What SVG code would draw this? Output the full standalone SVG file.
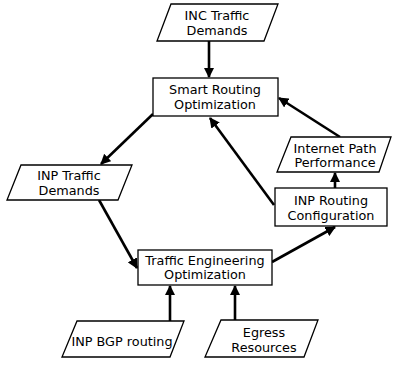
<svg xmlns="http://www.w3.org/2000/svg" width="399" height="367" viewBox="0 0 399 367">
<defs>
<marker id="ah" viewBox="0 0 10 10" refX="9" refY="5" markerWidth="4" markerHeight="4" orient="auto" markerUnits="strokeWidth">
<path d="M0,0 L10,5 L0,10 z" fill="#000"/>
</marker>
<style>
.n{fill:#fff;stroke:#000;stroke-width:1.3}
.t{font-family:"DejaVu Sans",Verdana,sans-serif;font-size:12.8px;fill:#000;text-anchor:middle}
.c{stroke:#000;stroke-width:2.6;fill:none;marker-end:url(#ah)}
</style>
</defs>
<rect width="399" height="367" fill="#fff"/>
<g id="connectors">
<line class="c" x1="209" y1="41" x2="209" y2="77"/>
<line class="c" x1="153" y1="114" x2="101" y2="164"/>
<line class="c" x1="99" y1="200" x2="137" y2="268"/>
<line class="c" x1="272" y1="262" x2="335" y2="227"/>
<line class="c" x1="335" y1="188" x2="335" y2="173"/>
<line class="c" x1="340" y1="137" x2="279" y2="98"/>
<line class="c" x1="274" y1="205" x2="210" y2="118"/>
<line class="c" x1="170" y1="321" x2="170" y2="286"/>
<line class="c" x1="235" y1="320" x2="235" y2="286"/>
</g>
<g id="inc">
<polygon class="n" points="171,4 278,4 264,41 157,41"/>
<text class="t" x="217" y="20">INC Traffic</text>
<text class="t" x="217" y="35">Demands</text>
</g>
<g id="smart">
<rect class="n" x="153" y="78" width="125" height="38"/>
<text class="t" x="215" y="94">Smart Routing</text>
<text class="t" x="215" y="109">Optimization</text>
</g>
<g id="inptraffic">
<polygon class="n" points="21,165 132,165 118,200 7,200"/>
<text class="t" x="69" y="180">INP Traffic</text>
<text class="t" x="69" y="195">Demands</text>
</g>
<g id="te">
<rect class="n" x="138" y="250" width="134" height="35"/>
<text class="t" x="205" y="265">Traffic Engineering</text>
<text class="t" x="205" y="279">Optimization</text>
</g>
<g id="inproute">
<rect class="n" x="275" y="188" width="112" height="38"/>
<text class="t" x="331" y="205">INP Routing</text>
<text class="t" x="331" y="220">Configuration</text>
</g>
<g id="inetpath">
<polygon class="n" points="291,137 391,137 379,172 277,172"/>
<text class="t" x="335" y="153">Internet Path</text>
<text class="t" x="335" y="167">Performance</text>
</g>
<g id="bgp">
<polygon class="n" points="77,321 184,321 170,357 62,357"/>
<text class="t" x="122" y="346">INP BGP routing</text>
</g>
<g id="egress">
<polygon class="n" points="221,320 318,320 304,357 205,357"/>
<text class="t" x="264" y="337">Egress</text>
<text class="t" x="264" y="352">Resources</text>
</g>
</svg>
